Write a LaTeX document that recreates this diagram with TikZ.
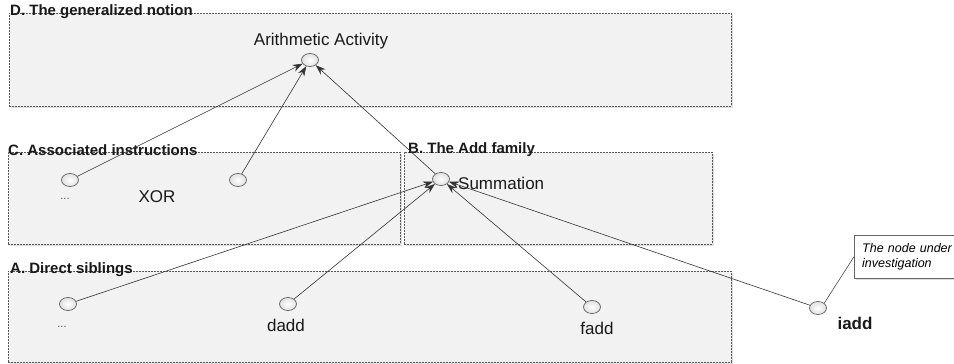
\documentclass[tikz,border=0pt]{standalone}
\usepackage{fontspec}
\setmainfont{Liberation Sans}
\usetikzlibrary{arrows.meta,shadows,shapes.geometric}
\begin{document}
\begin{tikzpicture}[x=1pt,y=-1pt,
 grp/.style={draw=black!65, dash pattern=on 2pt off 1pt, fill=black!5, anchor=north west, inner sep=0pt,
   drop shadow={opacity=0.25,shadow xshift=1.5pt,shadow yshift=-1.5pt}},
 grplabel/.style={font=\fontsize{15}{17}\selectfont\bfseries, anchor=west, inner sep=0pt, text=black!90},
 ent/.style={ellipse, draw=black!70, line width=0.6pt, minimum width=17pt, minimum height=13pt, inner sep=0pt,
   inner color=white, outer color=black!12},
 lbl/.style={font=\fontsize{17}{19}\selectfont, inner sep=0pt, text=black!90},
 dots/.style={font=\fontsize{11}{13}\selectfont, inner sep=0pt, text=black!70},
 rel/.style={draw=black!80, line width=0.6pt, -{Stealth[length=10pt,width=7pt]}}]
\useasboundingbox (0,0) rectangle (954,364);
\clip (0,0) rectangle (954,364);
% groups
\node[grp, minimum width=722pt, minimum height=93pt] (bD) at (9,13) {};
\node[grp, minimum width=392pt, minimum height=92pt] (bC) at (8,152) {};
\node[grp, minimum width=308pt, minimum height=92pt] (bB) at (404,152) {};
\node[grp, minimum width=723pt, minimum height=91pt] (bA) at (8,271) {};
\node[grplabel] (lD) at (10,12) {D. The generalized notion};
\node[grplabel] (lC) at (8,150) {C. Associated instructions};
\node[grplabel] (lB) at (408,150) {B. The Add family};
\node[grplabel] (lA) at (10,270) {A. Direct siblings};
% entities
\node[ent] (arith) at (310,60) {};
\node[lbl] (tarith) at (321,41) {Arithmetic Activity};
\node[ent] (c1) at (70,180) {};
\node[dots] (tc1) at (65,199) {...};
\node[lbl] (txor) at (157,197) {XOR};
\node[ent] (c2) at (238,180) {};
\node[ent] (sum) at (441,179) {};
\node[lbl, anchor=west] (tsum) at (458,183) {Summation};
\node[ent] (a1) at (68,304) {};
\node[dots] (ta1) at (62,327) {...};
\node[ent] (dadd) at (288,304) {};
\node[lbl] (tdadd) at (286,325) {dadd};
\node[ent] (fadd) at (592,307) {};
\node[lbl] (tfadd) at (597,328) {fadd};
\node[ent] (iadd) at (818,308) {};
\node[lbl, font=\fontsize{17}{19}\selectfont\bfseries] (tiadd) at (855,323) {iadd};
% callout
\node[draw=black!60, fill=white, anchor=north west, minimum width=110pt, minimum height=43pt,
  text width=100pt, inner xsep=8pt, inner ysep=0pt, align=left,
  font=\fontsize{12.5}{15}\selectfont\itshape,
  drop shadow={opacity=0.25,shadow xshift=1.5pt,shadow yshift=-1.5pt}] (note) at (854,235) {The node under\\investigation};
\draw[black!70, line width=0.6pt] (note.west) -- (iadd.north east);
% relations
\draw[rel] (c1) -- (arith);
\draw[rel] (c2) -- (arith);
\draw[rel] (sum) -- (arith);
\draw[rel] (a1) -- (sum);
\draw[rel] (dadd) -- (sum);
\draw[rel] (fadd) -- (sum);
\draw[rel] (iadd) -- (sum);
\end{tikzpicture}
\end{document}
